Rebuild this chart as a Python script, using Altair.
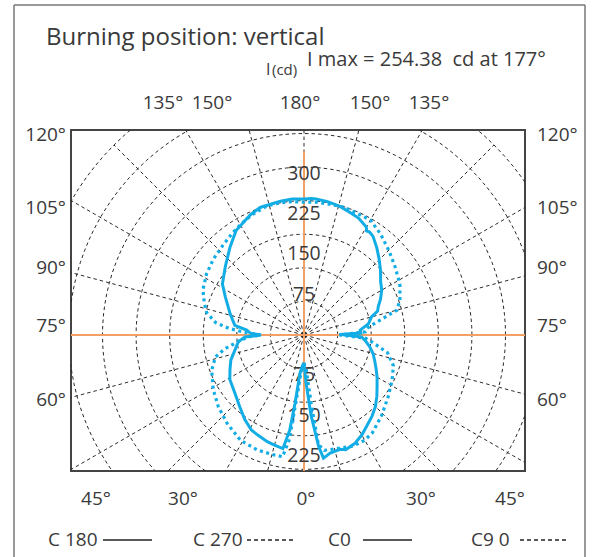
import altair as alt
import pandas as pd

# ---- Luminous intensity distribution (cd); gamma in degrees, 0 = down, 180 = up
c0_gamma = [0, 2.5, 5, 7.5, 9, 12.5, 17.5, 20, 25, 30, 35, 40, 45, 50, 55, 60, 65, 70, 75, 80,
            85, 88, 91, 92, 95, 100, 105, 108, 111, 115, 120, 125, 130, 135, 140, 145, 147.5,
            149, 150, 155, 160, 165, 170, 175, 177, 180]
c0_cd = [52, 90, 150, 210, 232, 225, 223, 227, 223, 215, 205, 197, 188, 177, 166, 157, 148, 140,
         133, 124, 114, 107, 66, 106, 105, 122, 130, 144, 148, 157, 167, 174, 186, 198, 211, 224,
         227, 226, 232, 240, 244, 249, 252, 254, 254.38, 253]

c180_gamma = [0, 3, 6, 7.5, 8.5, 10.5, 15, 19, 25, 29, 35, 42, 50, 59, 65, 71, 78, 84, 88, 90,
              92, 95, 98, 106, 116, 122, 131, 140, 147, 156, 161, 170, 175, 180]
c180_cd = [52, 58, 72, 128, 179, 215, 212, 210, 205, 202, 192, 179, 168, 161, 152, 144, 131, 123,
           110, 80, 100, 107, 130, 143, 163, 179, 194, 214, 232, 245, 251, 253, 254, 253]

c90_gamma = [0, 4, 6, 7.5, 10, 16, 24, 30, 35, 44, 54, 63, 71, 78, 83, 87, 90, 93, 97, 101,
             105, 110, 118, 127, 135, 143, 150, 157, 163, 170, 175, 180]
c90_cd = [52, 70, 130, 206, 218, 220, 226, 226, 222, 208, 194, 184, 176, 159, 132, 115, 66, 115,
          121, 144, 179, 190, 202, 212, 223, 236, 247, 247, 249, 248, 248, 247]

c270_gamma = [0, 4, 6, 8, 10, 14, 22, 31, 41, 50, 59, 69, 76, 80, 84, 88, 90, 92, 95, 98,
              103, 108, 114, 122, 130, 138, 145, 151, 157, 164, 170, 175, 180]
c270_cd = [52, 62, 100, 197, 230, 230, 231, 229, 218, 208, 197, 184, 170, 150, 125, 105, 80, 105,
           140, 166, 186, 195, 206, 214, 220, 225, 232, 238, 244, 250, 250, 249, 247]

i_max = 254.38
i_max_angle = 177

# Polar grid
ring_step = 62.5
ring_count = 8
spoke_angles = list(range(0, 360, 15))
scale_labels_up = [75, 150, 225, 300]
scale_labels_down = [75, 150, 225]

top_angle_labels = ["135°", "150°", "180°", "150°", "135°"]
side_angle_labels = ["120°", "105°", "90°", "75°", "60°"]
bottom_angle_labels = ["45°", "30°", "0°", "30°", "45°"]
legend_names = ["C 180", "C 270", "C0", "C9 0"]
legend_dashed = [False, True, False, True]

# ---- Layout (canvas pixels)
FONT = "Open Sans"
TXT = "#3a3a3a"
GRID = "#2a2a2a"
CYAN = "#13ADE6"
ORANGE = "#F2A066"
PX_PER_CD = 0.5374
LEFT, TOP, PLOT_W, PLOT_H = 71, 130, 454, 341
CX, CY = 304, 335
ORANGE_TOP_CD = 342

x_dom = [-(CX - LEFT) / PX_PER_CD, (LEFT + PLOT_W - CX) / PX_PER_CD]
y_dom = [-(TOP + PLOT_H - CY) / PX_PER_CD, (CY - TOP) / PX_PER_CD]
xs = alt.Scale(domain=x_dom, nice=False, zero=False)
ys = alt.Scale(domain=y_dom, nice=False, zero=False)


def X(f):
    return alt.X(f, type="quantitative", scale=xs, axis=None)


def Y(f):
    return alt.Y(f, type="quantitative", scale=ys, axis=None)


ONE = pd.DataFrame({"k": [0]})

# concentric rings
ring_df = pd.DataFrame(
    [(ring_step * k, t) for k in range(1, ring_count + 1) for t in range(0, 361, 3)],
    columns=["r", "t"],
)
rings = (
    alt.Chart(ring_df)
    .transform_calculate(x="datum.r*cos(datum.t*PI/180)", y="datum.r*sin(datum.t*PI/180)")
    .mark_line(clip=True, color=GRID, strokeWidth=1, strokeDash=[3.5, 3])
    .encode(x=X("x"), y=Y("y"), detail="r:N", order="t:Q")
)

# radial spokes
spoke_len = ring_step * ring_count
spokes = (
    alt.Chart(pd.DataFrame({"a": spoke_angles}))
    .transform_calculate(
        x0="0", y0="0",
        x1=f"{spoke_len}*sin(datum.a*PI/180)",
        y1=f"-{spoke_len}*cos(datum.a*PI/180)",
    )
    .mark_rule(clip=True, color=GRID, strokeWidth=1, strokeDash=[3.5, 3])
    .encode(x=X("x0"), y=Y("y0"), x2="x1:Q", y2="y1:Q")
)

# orange axes
axis_h = alt.Chart(pd.DataFrame({"v": [0]})).mark_rule(color=ORANGE, strokeWidth=2).encode(
    y=Y("v"), x=alt.value(0), x2=alt.value(PLOT_W)
)
axis_v = alt.Chart(pd.DataFrame({"v": [0], "top": [ORANGE_TOP_CD]})).mark_rule(
    color=ORANGE, strokeWidth=2
).encode(x=X("v"), y=Y("top"), y2=alt.value(PLOT_H))

# intensity scale labels along the vertical axis
lab_df = pd.DataFrame({
    "val": scale_labels_up + scale_labels_down,
    "dir": [1] * len(scale_labels_up) + [-1] * len(scale_labels_down),
})
scale_text = (
    alt.Chart(lab_df)
    .transform_calculate(y="datum.val*datum.dir", x="0")
    .mark_text(font=FONT, fontSize=19.5, color=TXT)
    .encode(x=X("x"), y=Y("y"), text=alt.Text("val:Q", format="d"))
)

# curves: C0/C90 on the right, C180/C270 on the left
rows = []
for plane, side, style, g, v in [
    ("C0", 1, "solid", c0_gamma, c0_cd),
    ("C180", -1, "solid", c180_gamma, c180_cd),
    ("C90", 1, "dotted", c90_gamma, c90_cd),
    ("C270", -1, "dotted", c270_gamma, c270_cd),
]:
    for gg, vv in zip(g, v):
        rows.append({"plane": plane, "side": side, "style": style, "gamma": gg, "cd": vv})
curve_df = pd.DataFrame(rows)
curve_base = alt.Chart(curve_df).transform_calculate(
    x="datum.side*datum.cd*sin(datum.gamma*PI/180)",
    y="-datum.cd*cos(datum.gamma*PI/180)",
)
dotted = curve_base.transform_filter("datum.style == 'dotted'").mark_line(
    clip=True, color=CYAN, strokeWidth=3.2, strokeDash=[3, 3.5]
).encode(x=X("x"), y=Y("y"), detail="plane:N", order="gamma:Q")
solid = curve_base.transform_filter("datum.style == 'solid'").mark_line(
    clip=True, color=CYAN, strokeWidth=3
).encode(x=X("x"), y=Y("y"), detail="plane:N", order="gamma:Q")


def label(s, px, py, size, align="left", baseline="alphabetic"):
    return alt.Chart(ONE).mark_text(
        font=FONT, fontSize=size, color=TXT, align=align, baseline=baseline
    ).encode(x=alt.value(px - LEFT), y=alt.value(py - TOP), text=alt.value(s))


def hline(x1, x2, y, dashed=False, color="#222222", width=1.3):
    kw = {"strokeDash": [4, 3]} if dashed else {}
    return alt.Chart(ONE).mark_rule(color=color, strokeWidth=width, **kw).encode(
        x=alt.value(x1 - LEFT), x2=alt.value(x2 - LEFT), y=alt.value(y - TOP)
    )


def vline(x, y1, y2, color="#777777", width=1.5):
    return alt.Chart(ONE).mark_rule(color=color, strokeWidth=width).encode(
        x=alt.value(x - LEFT), y=alt.value(y1 - TOP), y2=alt.value(y2 - TOP)
    )


texts = [
    label("Burning position: vertical", 46, 45, 24),
    label("I", 266, 75, 16),
    label("(cd)", 272, 75, 15),
    label(f"I max = {i_max}\u00a0\u00a0cd at {i_max_angle}°", 307, 66, 20),
]
for s, xc in zip(top_angle_labels, [163, 212, 300, 370, 429]):
    texts.append(label(s, xc, 103, 19, align="center", baseline="middle"))
for s, yc in zip(side_angle_labels, [135, 208, 268, 326, 400]):
    texts.append(label(s, 66, yc, 19, align="right", baseline="middle"))
    texts.append(label(s, 537, yc, 19, align="left", baseline="middle"))
for s, xc in zip(bottom_angle_labels, [96, 183, 306, 421, 510]):
    texts.append(label(s, xc, 499, 19, align="center", baseline="middle"))

legend = []
for s, tx, lx, dashed in zip(legend_names, [48, 193, 328, 471], [103, 247, 363, 520], legend_dashed):
    legend.append(label(s, tx, 540, 19, align="left", baseline="middle"))
    legend.append(hline(lx, lx + 49, 540, dashed=dashed))

frame = [
    vline(14, 5, 570),
    vline(585, 5, 570),
    hline(14, 585, 5, color="#777777", width=1.5),
]

chart = alt.layer(
    rings, spokes, axis_h, axis_v, scale_text, dotted, solid, *texts, *legend, *frame
).properties(
    width=PLOT_W,
    height=PLOT_H,
    padding={"left": LEFT, "top": TOP, "right": 596 - LEFT - PLOT_W, "bottom": 557 - TOP - PLOT_H},
    autosize=alt.AutoSizeParams(type="none"),
).configure_view(stroke="#444444", strokeWidth=2)

chart.save("out.html", embed_options={"renderer": "svg", "actions": False})
